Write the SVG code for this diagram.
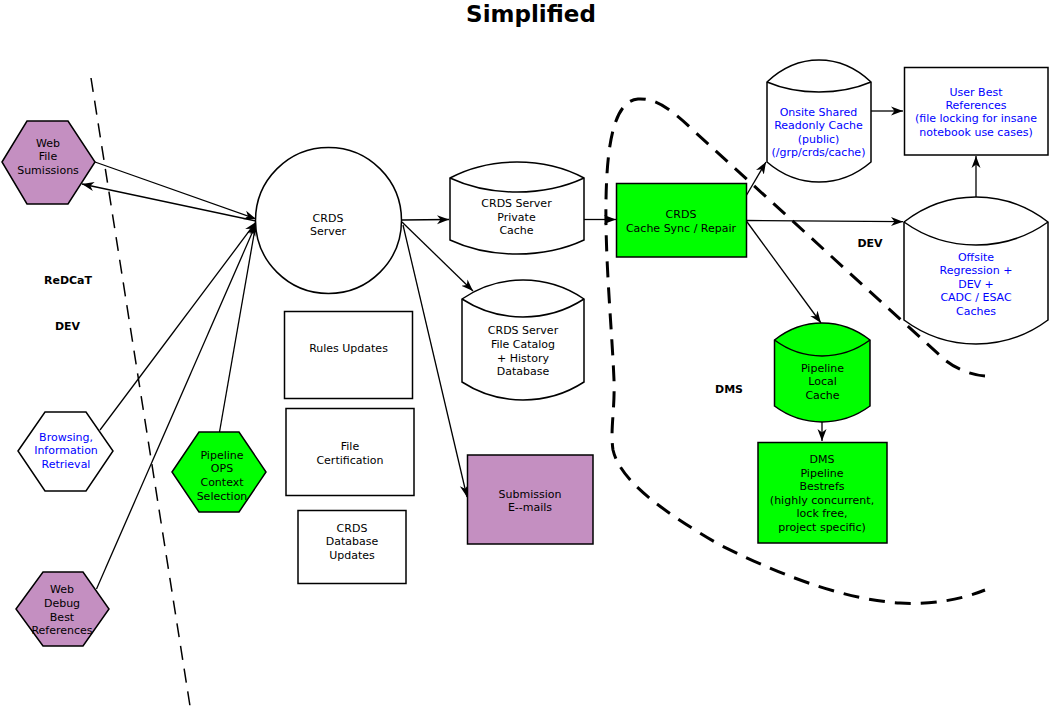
<svg xmlns="http://www.w3.org/2000/svg" width="1051" height="720" viewBox="0 0 1051 720">
<style>
text{font-family:"DejaVu Sans","Liberation Sans",sans-serif;font-size:11px;text-anchor:middle;fill:#000}
.b{fill:#0000ff}
.lbl{font-weight:bold}
.title{font-weight:bold;font-size:23px}
.s{stroke:#000;stroke-width:1.5;stroke-linejoin:miter}
.w{fill:#fff}
.g{fill:#00ff00}
.p{fill:#c48fc1}
.c{fill:none;stroke:#000;stroke-width:1.3;marker-end:url(#ah)}
</style>
<defs>
<marker id="ah" markerUnits="userSpaceOnUse" markerWidth="13" markerHeight="10" refX="12" refY="5" orient="auto">
<path d="M0,0.5 L12,5 L0,9.5 L3.5,5 Z" fill="#000"/>
</marker>
</defs>
<rect width="1051" height="720" fill="#fff"/>
<text class="title" x="531" y="22">Simplified</text>

<g id="boundaries" fill="none" stroke="#000">
<path d="M91,78 L190,706" stroke-width="1.5" stroke-dasharray="14,9"/>
<path d="M985,376 C970,375 955,368 945,360 L695,132 C670,108 655,98 638,99 C615,101 607,140 606,200 C605,260 612,330 614,380 C615,410 610,430 613,450 C620,480 660,510 720,545 C790,580 850,600 900,603 C930,605 960,600 985,590" stroke-width="3" stroke-dasharray="16,10"/>
</g>

<g id="labels">
<text class="lbl" x="68" y="284.3">ReDCaT</text>
<text class="lbl" x="67.5" y="330">DEV</text>
<text class="lbl" x="870" y="247.3">DEV</text>
<text class="lbl" x="729" y="393.3">DMS</text>
</g>

<g id="connectors">
<path class="c" d="M95,162 L256,219"/>
<path class="c" d="M256,221 L82,184"/>
<path class="c" d="M100,430 L256,222"/>
<path class="c" d="M219.5,432 L256,223"/>
<path class="c" d="M96.5,589 L256,224"/>
<path class="c" d="M402,220 L449,219.5"/>
<path class="c" d="M402,222 L473,291"/>
<path class="c" d="M403,225 L467,497"/>
<path class="c" d="M584,219.5 L616,219.5"/>
<path class="c" d="M746,196 L766,162"/>
<path class="c" d="M746,220.5 L903,221.7"/>
<path class="c" d="M746,220.5 L821,323"/>
<path class="c" d="M822,422 L822,441"/>
<path class="c" d="M871,111 L903,111"/>
<path class="c" d="M976,197 L976,156"/>
</g>

<g id="web-file-submissions">
<polygon class="s p" points="2,162 27,121 68,121 95,162 68,204 27,204"/>
<text x="48" y="146.5">Web</text>
<text x="48" y="160.3">File</text>
<text x="48" y="174">Sumissions</text>
</g>

<g id="browsing">
<polygon class="s w" points="18,451 45,412 86,412 113,451 86,491 45,491"/>
<text class="b" x="66" y="440.5">Browsing,</text>
<text class="b" x="66" y="454">Information</text>
<text class="b" x="66" y="467.5">Retrieval</text>
</g>

<g id="pipeline-ops">
<polygon class="s g" points="172,472 199,432 239,432 266,472 239,512 199,512"/>
<text x="222" y="458.5">Pipeline</text>
<text x="222" y="472.2">OPS</text>
<text x="222" y="485.9">Context</text>
<text x="222" y="499.6">Selection</text>
</g>

<g id="web-debug">
<polygon class="s p" points="16,609 43,572 83,572 109,609 83,646 43,646"/>
<text x="62" y="593.3">Web</text>
<text x="62" y="607">Debug</text>
<text x="62" y="620.6">Best</text>
<text x="62" y="634.3">References</text>
</g>

<g id="crds-server">
<circle class="s w" cx="328.5" cy="220.5" r="73"/>
<text x="328" y="221.7">CRDS</text>
<text x="328" y="235.2">Server</text>
</g>

<g id="rules-updates">
<rect class="s w" x="284.5" y="311.5" width="128" height="87"/>
<text x="348.5" y="352">Rules Updates</text>
</g>

<g id="file-certification">
<rect class="s w" x="286" y="408.5" width="128" height="87"/>
<text x="350" y="450">File</text>
<text x="350" y="463.5">Certification</text>
</g>

<g id="crds-db-updates">
<rect class="s w" x="298" y="510.5" width="108" height="73"/>
<text x="352" y="531.7">CRDS</text>
<text x="352" y="545.2">Database</text>
<text x="352" y="558.7">Updates</text>
</g>

<g id="submission-emails">
<rect class="s p" x="467.5" y="455" width="125.5" height="89"/>
<text x="530" y="497.7">Submission</text>
<text x="530" y="511.4">E--mails</text>
</g>

<g id="private-cache">
<path class="s w" d="M450,178 C490,156.7 544,156.7 584,178 L584,240 C544,258.7 490,258.7 450,240 Z"/>
<path class="s" fill="none" d="M450,178 C490,196.7 544,196.7 584,178"/>
<text x="516.5" y="207">CRDS Server</text>
<text x="516.5" y="220.7">Private</text>
<text x="516.5" y="234.4">Cache</text>
</g>

<g id="file-catalog">
<path class="s w" d="M462,299 C499,273.7 547,273.7 584,299 L584,382 C547,406 499,406 462,382 Z"/>
<path class="s" fill="none" d="M462,299 C499,323 547,323 584,299"/>
<text x="523" y="334">CRDS Server</text>
<text x="523" y="347.8">File Catalog</text>
<text x="523" y="361.6">+ History</text>
<text x="523" y="375.4">Database</text>
</g>

<g id="cache-sync">
<rect class="s g" x="616.5" y="183.5" width="130" height="73.5"/>
<text x="681" y="218.3">CRDS</text>
<text x="681" y="231.7">Cache Sync / Repair</text>
</g>

<g id="onsite-cache">
<path class="s w" d="M767,82 C798,52.7 840,52.7 871,82 L871,162 C840,188.7 798,188.7 767,162 Z"/>
<path class="s" fill="none" d="M767,82 C798,95.3 840,95.3 871,82"/>
<text class="b" x="818.5" y="115.7">Onsite Shared</text>
<text class="b" x="818.5" y="129.2">Readonly Cache</text>
<text class="b" x="818.5" y="142.7">(public)</text>
<text class="b" x="818.5" y="156.2">(/grp/crds/cache)</text>
</g>

<g id="user-best-refs">
<rect class="s w" x="904.5" y="67.5" width="143.5" height="87.5"/>
<text class="b" x="976" y="95.7">User Best</text>
<text class="b" x="976" y="108.6">References</text>
<text class="b" x="976" y="122">(file locking for insane</text>
<text class="b" x="976" y="135.6">notebook use cases)</text>
</g>

<g id="offsite-caches">
<path class="s w" d="M904,222 C947,188.7 1005,188.7 1048,222 L1048,320 C1005,352 947,352 904,320 Z"/>
<path class="s" fill="none" d="M904,222 C947,252.7 1005,252.7 1048,222"/>
<text class="b" x="976" y="260.7">Offsite</text>
<text class="b" x="976" y="274.4">Regression +</text>
<text class="b" x="976" y="287.6">DEV +</text>
<text class="b" x="976" y="301.3">CADC / ESAC</text>
<text class="b" x="976" y="315.3">Caches</text>
</g>

<g id="pipeline-local-cache">
<path class="s g" d="M774.5,340 C803,317.3 841,317.3 870,340 L870,406 C841,427.3 803,427.3 774.5,406 Z"/>
<path class="s" fill="none" d="M774.5,340 C803,361.3 841,361.3 870,340"/>
<text x="822.5" y="371.5">Pipeline</text>
<text x="822.5" y="385.2">Local</text>
<text x="822.5" y="398.9">Cache</text>
</g>

<g id="dms-bestrefs">
<rect class="s g" x="758" y="442.5" width="129" height="100.5"/>
<text x="822" y="463.3">DMS</text>
<text x="822" y="476.7">Pipeline</text>
<text x="822" y="490.1">Bestrefs</text>
<text x="822" y="503.6">(highly concurrent,</text>
<text x="822" y="517.1">lock free,</text>
<text x="822" y="530.6">project specific)</text>
</g>
</svg>
